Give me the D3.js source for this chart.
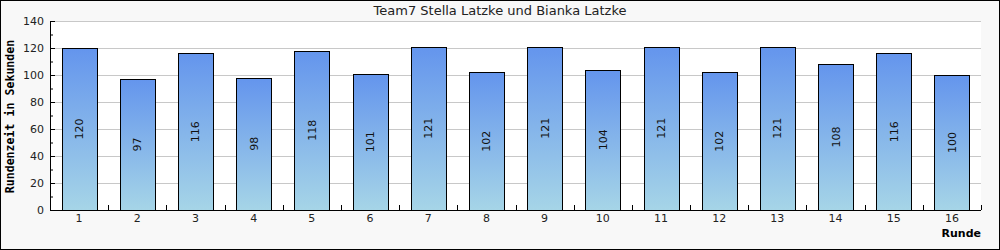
<!DOCTYPE html>
<html>
<head>
<meta charset="utf-8">
<script src="https://cdn.jsdelivr.net/npm/d3@7"></script>
<style>
  body { margin: 0; background: #fff; }
  svg { display: block; }
</style>
</head>
<body>
<svg width="1000" height="250"></svg>
<script>
const rounds = ["1","2","3","4","5","6","7","8","9","10","11","12","13","14","15","16"];
const lapTimes = [120, 97, 116, 98, 118, 101, 121, 102, 121, 104, 121, 102, 121, 108, 116, 100];
const yTicks = [0, 20, 40, 60, 80, 100, 120, 140];

const svg = d3.select("svg");
const width = +svg.attr("width");
const height = +svg.attr("height");
const margin = {top: 21, right: 19, bottom: 40, left: 50};
const plotW = width - margin.left - margin.right;
const plotH = height - margin.top - margin.bottom;

// background + frame
svg.append("rect")
    .attr("x", 0.5).attr("y", 0.5)
    .attr("width", width - 1).attr("height", height - 1)
    .attr("fill", "#f8f8f8")
    .attr("stroke", "#000");

const defs = svg.append("defs");
const grad = defs.append("linearGradient")
    .attr("id", "barGrad")
    .attr("x1", 0).attr("y1", 0).attr("x2", 0).attr("y2", 1);
grad.append("stop").attr("offset", "0%").attr("stop-color", "#6495ed");
grad.append("stop").attr("offset", "100%").attr("stop-color", "#a6d5e7");

svg.append("text")
    .attr("x", width / 2).attr("y", 15)
    .attr("text-anchor", "middle")
    .attr("font-family", "DejaVu Sans")
    .attr("font-size", 13)
    .attr("fill", "#222")
    .text("Team7 Stella Latzke und Bianka Latzke");

const g = svg.append("g").attr("transform", `translate(${margin.left},${margin.top})`);

g.append("rect")
    .attr("width", plotW).attr("height", plotH)
    .attr("fill", "#fff");

const x = d3.scaleBand().domain(rounds).range([0, plotW]).paddingInner(0.4).paddingOuter(0.2);
const y = d3.scaleLinear().domain([0, 140]).range([plotH, 0]);

// grid
g.selectAll("line.grid")
    .data(yTicks.filter(d => d > 0))
    .join("line")
    .attr("class", "grid")
    .attr("x1", 0).attr("x2", plotW)
    .attr("y1", d => Math.round(y(d)) + 0.5).attr("y2", d => Math.round(y(d)) + 0.5)
    .attr("stroke", "#c8c8c8");

// bars
g.selectAll("rect.bar")
    .data(lapTimes)
    .join("rect")
    .attr("class", "bar")
    .attr("x", (d, i) => Math.round(x(rounds[i])) + 0.5)
    .attr("y", d => Math.round(y(d)) + 0.5)
    .attr("width", Math.round(x.bandwidth()))
    .attr("height", d => Math.round(plotH - y(d)))
    .attr("fill", "url(#barGrad)")
    .attr("stroke", "#000");

// value labels
g.selectAll("text.val")
    .data(lapTimes)
    .join("text")
    .attr("class", "val")
    .attr("transform", (d, i) => `translate(${x(rounds[i]) + x.bandwidth() / 2 + 4},${(y(d) + plotH) / 2}) rotate(-90)`)
    .attr("text-anchor", "middle")
    .attr("font-family", "DejaVu Sans")
    .attr("font-size", 11)
    .attr("fill", "#111")
    .text(d => d);

// y axis
const yAxis = g.append("g")
    .call(d3.axisRight(y).tickValues(yTicks).tickSize(5).tickFormat(""));
yAxis.select(".domain").remove();
g.append("g")
    .call(d3.axisRight(y).tickValues(d3.range(10, 140, 20)).tickSize(3).tickFormat(""))
    .select(".domain").remove();
g.append("line")
    .attr("x1", 0.5).attr("x2", 0.5).attr("y1", 0).attr("y2", plotH)
    .attr("stroke", "#000");

g.selectAll("text.ytick")
    .data(yTicks)
    .join("text")
    .attr("class", "ytick")
    .attr("x", -6).attr("y", d => y(d) + 4)
    .attr("text-anchor", "end")
    .attr("font-family", "DejaVu Sans")
    .attr("font-size", 11)
    .attr("fill", "#222")
    .text(d => d);

// x axis
g.append("line")
    .attr("x1", 0).attr("x2", plotW)
    .attr("y1", plotH + 0.5).attr("y2", plotH + 0.5)
    .attr("stroke", "#000");
g.selectAll("line.xtick")
    .data(d3.range(1, rounds.length + 1))
    .join("line")
    .attr("class", "xtick")
    .attr("x1", i => Math.round(i * plotW / rounds.length) + 0.5)
    .attr("x2", i => Math.round(i * plotW / rounds.length) + 0.5)
    .attr("y1", plotH).attr("y2", plotH - 5)
    .attr("stroke", "#000");

g.selectAll("text.xlab")
    .data(rounds)
    .join("text")
    .attr("class", "xlab")
    .attr("x", d => x(d) + x.bandwidth() / 2)
    .attr("y", plotH + 12)
    .attr("text-anchor", "middle")
    .attr("font-family", "DejaVu Sans")
    .attr("font-size", 11)
    .attr("fill", "#222")
    .text(d => d);

// axis titles
svg.append("text")
    .attr("x", margin.left + plotW).attr("y", 237)
    .attr("text-anchor", "end")
    .attr("font-family", "DejaVu Sans")
    .attr("font-weight", "bold")
    .attr("font-size", 11)
    .text("Runde");

svg.append("text")
    .attr("transform", `translate(13.5,116.5) rotate(-90)`)
    .attr("text-anchor", "middle")
    .attr("font-family", "DejaVu Sans Mono")
    .attr("font-weight", "bold")
    .attr("font-size", 11.6)
    .text("Rundenzeit in Sekunden");
</script>
</body>
</html>
